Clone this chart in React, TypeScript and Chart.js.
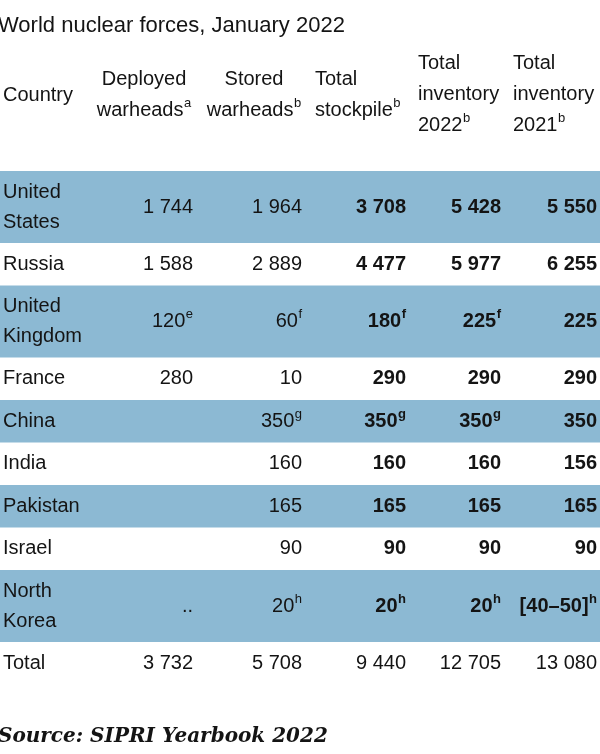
import React, { useEffect, useRef } from "react";
import { Chart, registerables } from "chart.js";

Chart.register(...registerables);

// ---- data ----
const title = "World nuclear forces, January 2022";
const source = "Source: SIPRI Yearbook 2022";
const headers = [
  ["Country"],
  ["Deployed", "warheads"],
  ["Stored", "warheads"],
  ["Total", "stockpile"],
  ["Total", "inventory", "2022"],
  ["Total", "inventory", "2021"],
];
const headerNotes = ["", "a", "b", "b", "b", "b"];
const countries = ["United States", "Russia", "United Kingdom", "France", "China", "India", "Pakistan", "Israel", "North Korea"];
const deployed: (number | string | null)[] = [1744, 1588, 120, 280, null, null, null, null, ".."];
const deployedNotes = ["", "", "e", "", "", "", "", "", ""];
const stored: (number | string | null)[] = [1964, 2889, 60, 10, 350, 160, 165, 90, 20];
const storedNotes = ["", "", "f", "", "g", "", "", "", "h"];
const stockpile: (number | string | null)[] = [3708, 4477, 180, 290, 350, 160, 165, 90, 20];
const stockpileNotes = ["", "", "f", "", "g", "", "", "", "h"];
const inventory2022: (number | string | null)[] = [5428, 5977, 225, 290, 350, 160, 165, 90, 20];
const inventory2022Notes = ["", "", "f", "", "g", "", "", "", "h"];
const inventory2021: (number | string | null)[] = [5550, 6255, 225, 290, 350, 156, 165, 90, "[40–50]"];
const inventory2021Notes = ["", "", "", "", "", "", "", "", "h"];
const totalLabel = "Total";
const totals = [3732, 5708, 9440, 12705, 13080];

// ---- layout / style ----
const W = 600;
const H = 754;
const SANS = "'Liberation Sans', Arial, sans-serif";
const SERIF = "'DejaVu Serif', serif";
const BLUE = "#8cb9d3";
const INK = "#141414";
const ROW_TOP = 171;
const ROW_1 = 42.5;
const ROW_2 = 72;
const LINE_GAP = 30;
const COL_RIGHT = [193, 302, 406, 501, 597];
const BOLD_COL = [false, false, true, true, true];

const fmt = (v: number | string | null) =>
  v === null || v === undefined ? "" : typeof v === "number" ? String(v).replace(/\B(?=(\d{3})+(?!\d))/g, " ") : v;

const tablePlugin = {
  id: "tablePlugin",
  beforeDatasetsDraw(chart: any) {
    const ctx: CanvasRenderingContext2D = chart.ctx;
    const sx = chart.scales.x;
    const sy = chart.scales.y;
    const px = (v: number) => sx.getPixelForValue(v);
    const py = (v: number) => sy.getPixelForValue(v);

    const font = (size: number, bold = false, family = SANS, italic = false) =>
      `${italic ? "italic " : ""}${bold ? "bold " : ""}${size}px ${family}`;

    // draw text + superscript; align: left/right/center relative to x
    const drawCell = (txt: string, note: string, x: number, y: number, align: "left" | "right" | "center", bold: boolean, size = 20) => {
      ctx.save();
      ctx.fillStyle = INK;
      ctx.textBaseline = "middle";
      ctx.textAlign = "left";
      ctx.font = font(size, bold);
      const mw = ctx.measureText(txt).width;
      ctx.font = font(13, bold);
      const nw = note ? ctx.measureText(note).width + 0.5 : 0;
      const total = mw + nw;
      let x0 = x;
      if (align === "right") x0 = x - total;
      else if (align === "center") x0 = x - total / 2;
      ctx.font = font(size, bold);
      ctx.fillText(txt, x0, y);
      if (note) {
        ctx.font = font(13, bold);
        ctx.fillText(note, x0 + mw + 0.5, y - 7);
      }
      ctx.restore();
    };

    // title
    ctx.save();
    ctx.fillStyle = INK;
    ctx.textBaseline = "middle";
    ctx.textAlign = "left";
    ctx.font = font(22);
    ctx.fillText(title, px(-2), py(25.5));
    ctx.restore();

    // headers
    const headerCenter = [95, 95, 95, 95, 95, 95];
    headers.forEach((lines, i) => {
      const n = lines.length;
      const cy = i >= 4 ? 94.5 : 95;
      lines.forEach((ln, j) => {
        const y = py(cy + (j - (n - 1) / 2) * 31);
        const note = j === n - 1 ? headerNotes[i] : "";
        if (i === 0) drawCell(ln, note, px(3), y, "left", false);
        else if (i === 1) drawCell(ln, note, px(144), y, "center", false);
        else if (i === 2) drawCell(ln, note, px(254), y, "center", false);
        else if (i === 3) drawCell(ln, note, px(315), y, "left", false);
        else if (i === 4) drawCell(ln, note, px(418), y, "left", false);
        else drawCell(ln, note, px(513), y, "left", false);
      });
      void headerCenter;
    });

    // rows
    const cols = [deployed, stored, stockpile, inventory2022, inventory2021];
    const notes = [deployedNotes, storedNotes, stockpileNotes, inventory2022Notes, inventory2021Notes];
    let top = ROW_TOP;
    countries.forEach((name, r) => {
      const lines = name.split(" ");
      const h = lines.length > 1 ? ROW_2 : ROW_1;
      if (r % 2 === 0) {
        ctx.save();
        ctx.fillStyle = BLUE;
        const y0 = py(top);
        const y1 = py(top + h);
        ctx.fillRect(px(0), y0, px(W) - px(0), y1 - y0);
        ctx.restore();
      }
      const cy = top + h / 2;
      lines.forEach((ln, j) => {
        drawCell(ln, "", px(3), py(cy + (j - (lines.length - 1) / 2) * LINE_GAP), "left", false);
      });
      cols.forEach((col, c) => {
        const v = fmt(col[r]);
        if (v) drawCell(v, notes[c][r], px(COL_RIGHT[c]), py(cy), "right", BOLD_COL[c]);
      });
      top += h;
    });

    // total row
    const cyT = top + ROW_1 / 2;
    drawCell(totalLabel, "", px(3), py(cyT), "left", false);
    totals.forEach((v, c) => drawCell(fmt(v), "", px(COL_RIGHT[c]), py(cyT), "right", false));

    // source
    ctx.save();
    ctx.fillStyle = INK;
    ctx.textBaseline = "middle";
    ctx.textAlign = "left";
    ctx.font = font(20, true, SERIF, true);
    ctx.fillText(source, px(-2), py(737));
    ctx.restore();
  },
};

export default function App() {
  const ref = useRef<HTMLCanvasElement | null>(null);
  useEffect(() => {
    if (!ref.current) return;
    const chart = new Chart(ref.current, {
      type: "scatter",
      data: { datasets: [] },
      options: {
        animation: false,
        responsive: false,
        devicePixelRatio: 1,
        layout: { padding: 0 },
        plugins: { legend: { display: false }, tooltip: { enabled: false } },
        scales: {
          x: { type: "linear", min: 0, max: W, display: false },
          y: { type: "linear", min: 0, max: H, reverse: true, display: false },
        },
      },
      plugins: [tablePlugin],
    });
    return () => chart.destroy();
  }, []);
  return (
    <div style={{ position: "fixed", left: 0, top: 0, width: W, height: H, background: "#fff" }}>
      <canvas ref={ref} width={W} height={H} style={{ display: "block" }} />
    </div>
  );
}
